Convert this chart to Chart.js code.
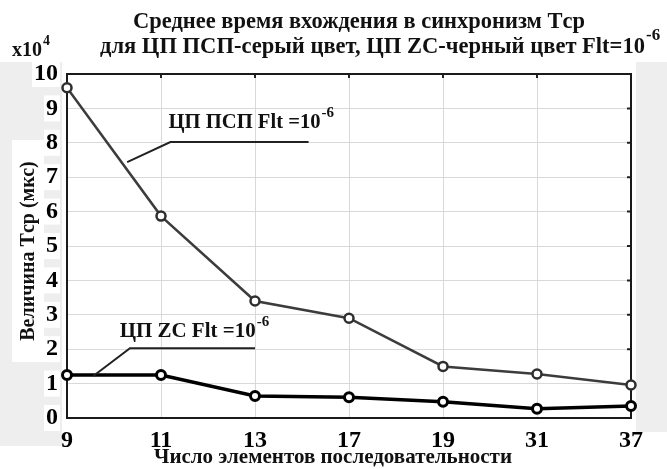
<!DOCTYPE html>
<html>
<head>
<meta charset="utf-8">
<script src="https://cdn.jsdelivr.net/npm/chart.js@4/dist/chart.umd.min.js"></script>
<style>
  html, body { margin: 0; padding: 0; background: #fff; }
  #wrap { width: 667px; height: 469px; }
</style>
</head>
<body>
<div id="wrap"><canvas id="chart" width="667" height="469"></canvas></div>
<script>
// data (values in units of 10^4 mks)
var categories = ['9', '11', '13', '17', '19', '31', '37'];
var grayValues = [9.6, 5.87, 3.4, 2.9, 1.5, 1.28, 0.96];   // ЦП ПСП
var blackValues = [1.25, 1.25, 0.64, 0.6, 0.47, 0.27, 0.35]; // ЦП ZC

var titleLine1 = 'Среднее время вхождения в синхронизм Tср';
var titleLine2 = 'для ЦП ПСП-серый цвет, ЦП ZC-черный цвет Flt=10';
var yTitle = 'Величина Tср (мкс)';
var xTitle = 'Число элементов последовательности';

var SERIF = '"Liberation Serif", "DejaVu Serif", serif';
var TICK_SIZE = 24;

function bold(size) {
    return 'bold ' + size + 'px ' + SERIF;
}

// text with superscript part
function supText(ctx, text, sup, x, y, size, maxW) {
    ctx.font = bold(size);
    ctx.textAlign = 'left';
    ctx.textBaseline = 'alphabetic';
    var w = ctx.measureText(text).width;
    if (maxW && w > maxW) w = maxW;
    ctx.fillText(text, x, y, maxW || undefined);
    ctx.font = bold(Math.round(size * 0.72));
    ctx.fillText(sup, x + w + 1, y - size * 0.55);
}

var decoPlugin = {
    id: 'deco',
    beforeDraw: function (chart) {
        var ctx = chart.ctx;
        var y = chart.scales.y;
        ctx.save();
        ctx.fillStyle = '#fff';
        ctx.fillRect(0, 0, chart.width, chart.height);
        // light grey side strips like in the scan
        ctx.fillStyle = '#eeeeee';
        ctx.fillRect(0, 62, 62, 384);
        ctx.fillRect(636, 62, 31, 370);
        // white patches behind y title and tick labels
        ctx.fillStyle = '#fff';
        ctx.fillRect(12, 140, 32, 222);
        ctx.font = bold(TICK_SIZE);
        for (var v = 0; v <= 10; v++) {
            var w = ctx.measureText(String(v)).width;
            ctx.fillRect(58 - w - 2, y.getPixelForValue(v) - 13, w + 4, 26);
        }
        ctx.restore();
    },
    beforeDatasetsDraw: function (chart) {
        var ctx = chart.ctx;
        var a = chart.chartArea;
        var x = chart.scales.x, y = chart.scales.y;
        ctx.save();
        // inward ticks on top and right
        ctx.strokeStyle = '#222';
        ctx.lineWidth = 2;
        ctx.beginPath();
        for (var i = 1; i < categories.length - 1; i++) {
            var px = x.getPixelForValue(i);
            ctx.moveTo(px, a.top);
            ctx.lineTo(px, a.top + 4);
        }
        for (var v = 1; v < 10; v++) {
            var py = y.getPixelForValue(v);
            ctx.moveTo(a.right, py);
            ctx.lineTo(a.right - 4, py);
        }
        ctx.stroke();
        // axes box
        ctx.strokeStyle = '#1a1a1a';
        ctx.lineWidth = 2;
        ctx.strokeRect(a.left, a.top, a.right - a.left, a.bottom - a.top);
        ctx.restore();
    },
    afterDraw: function (chart) {
        var ctx = chart.ctx;
        var x = chart.scales.x, y = chart.scales.y;
        ctx.save();
        ctx.fillStyle = '#111';

        // title
        ctx.font = bold(23);
        ctx.textAlign = 'left';
        ctx.textBaseline = 'alphabetic';
        ctx.fillText(titleLine1, 133, 28, 452);
        supText(ctx, titleLine2, '-6', 100, 53, 23, 545);
        supText(ctx, 'x10', '4', 12, 56, 20);

        // y title
        ctx.save();
        ctx.translate(29, 251);
        ctx.rotate(-Math.PI / 2);
        ctx.font = bold(20);
        ctx.textAlign = 'center';
        ctx.textBaseline = 'middle';
        ctx.fillText(yTitle, 0, 0, 212);
        ctx.restore();

        // x title
        ctx.font = bold(21);
        ctx.textAlign = 'center';
        ctx.textBaseline = 'middle';
        ctx.fillText(xTitle, 333, 458, 382);

        // callouts, placed in data coordinates
        ctx.strokeStyle = '#222';
        ctx.lineWidth = 2;
        ctx.beginPath();
        ctx.moveTo(x.getPixelForValue(0.64), y.getPixelForValue(7.44));
        ctx.lineTo(x.getPixelForValue(1.1), y.getPixelForValue(8.02));
        ctx.lineTo(x.getPixelForValue(2.57), y.getPixelForValue(8.02));
        ctx.stroke();
        supText(ctx, 'ЦП ПСП Flt =10', '-6', x.getPixelForValue(1.08), y.getPixelForValue(8.42), 21, 152);

        ctx.beginPath();
        ctx.moveTo(x.getPixelForValue(0.28), y.getPixelForValue(1.22));
        ctx.lineTo(x.getPixelForValue(0.67), y.getPixelForValue(2.03));
        ctx.lineTo(x.getPixelForValue(2.0), y.getPixelForValue(2.03));
        ctx.stroke();
        supText(ctx, 'ЦП ZC Flt =10', '-6', x.getPixelForValue(0.56), y.getPixelForValue(2.35), 21, 136);

        ctx.restore();
    }
};

var tickFont = { family: SERIF, weight: 'bold', size: TICK_SIZE };

new Chart(document.getElementById('chart'), {
    type: 'line',
    data: {
        labels: categories,
        datasets: [
            {
                label: 'ЦП ПСП',
                data: grayValues,
                borderColor: '#3c3c3c',
                borderWidth: 2.5,
                pointRadius: 4.5,
                pointBorderWidth: 2.5,
                pointBorderColor: '#2e2e2e',
                pointBackgroundColor: '#fff',
                tension: 0,
                clip: false
            },
            {
                label: 'ЦП ZC',
                data: blackValues,
                borderColor: '#000',
                borderWidth: 3.5,
                pointRadius: 4.5,
                pointBorderWidth: 3,
                pointBorderColor: '#000',
                pointBackgroundColor: '#fff',
                tension: 0,
                clip: false
            }
        ]
    },
    options: {
        responsive: false,
        animation: false,
        devicePixelRatio: 1,
        layout: { padding: { top: 74, right: 36, left: 0, bottom: 0 } },
        plugins: {
            legend: { display: false },
            title: { display: false },
            tooltip: { enabled: false }
        },
        scales: {
            x: {
                type: 'category',
                offset: false,
                grid: { color: '#d9d9d9', lineWidth: 1, drawTicks: false },
                border: { display: false },
                ticks: { font: tickFont, color: '#000', padding: 8, maxRotation: 0, autoSkip: false },
                afterFit: function (s) { s.height = 51; }
            },
            y: {
                min: 0,
                max: 10,
                grid: { color: '#d9d9d9', lineWidth: 1, drawTicks: false },
                border: { display: false },
                ticks: { stepSize: 1, font: tickFont, color: '#000', padding: 9 },
                afterFit: function (s) { s.width = 67; }
            }
        }
    },
    plugins: [decoPlugin]
});
</script>
</body>
</html>
